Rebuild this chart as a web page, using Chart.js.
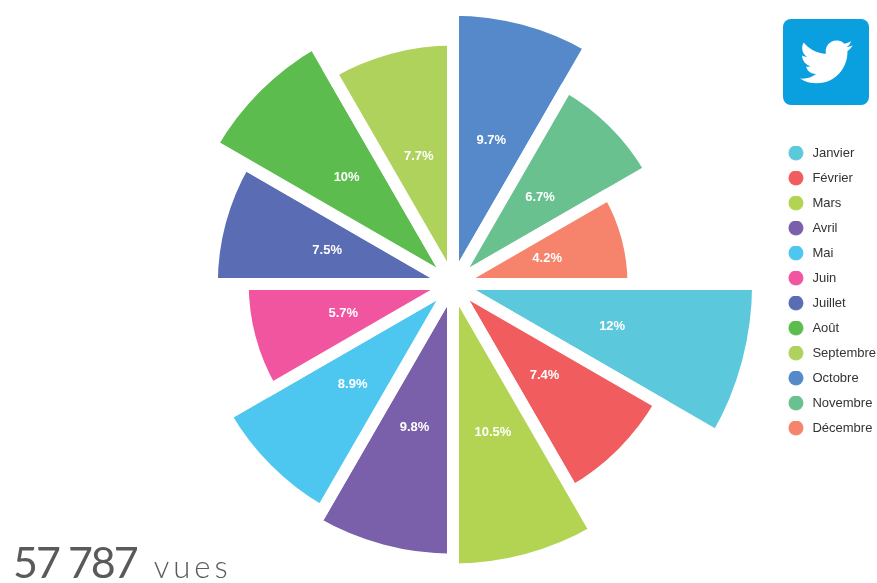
<!DOCTYPE html>
<html lang="fr">
<head>
<meta charset="utf-8">
<title>Twitter</title>
<script src="https://cdn.jsdelivr.net/npm/chart.js@4"></script>
<style>
    html, body { margin: 0; padding: 0; width: 877px; height: 583px; overflow: hidden; background: #fff; }
    #myChart { position: absolute; left: 0; top: -36px; }
    #logo { position: absolute; left: 783px; top: 19px; }
    #total { position: absolute; left: 13px; top: 537px; color: #5a5a5a; font-family: Lato, sans-serif; white-space: nowrap; line-height: 50px; }
    #total b { font-weight: 400; font-size: 43px; letter-spacing: -2px; }
    #total span { font-weight: 300; font-size: 31px; letter-spacing: 4px; margin-left: 17px; }
</style>
</head>
<body>
<canvas id="myChart" width="886" height="640"></canvas>
<svg id="logo" width="86" height="86" viewBox="0 0 86 86">
    <rect width="86" height="86" rx="8" fill="#0a9fde"></rect>
    <path transform="translate(17 16.5) scale(2.2)" fill="#fff" d="M23.953 4.57a10 10 0 01-2.825.775 4.958 4.958 0 002.163-2.723c-.951.555-2.005.959-3.127 1.184a4.92 4.92 0 00-8.384 4.482C7.69 8.095 4.067 6.13 1.64 3.162a4.822 4.822 0 00-.666 2.475c0 1.71.87 3.213 2.188 4.096a4.904 4.904 0 01-2.228-.616v.06a4.923 4.923 0 003.946 4.827 4.996 4.996 0 01-2.212.085 4.936 4.936 0 004.604 3.417 9.867 9.867 0 01-6.102 2.105c-.39 0-.779-.023-1.17-.067a13.995 13.995 0 007.557 2.209c9.053 0 13.998-7.496 13.998-13.985 0-.21 0-.42-.015-.63A9.935 9.935 0 0024 4.59z"></path>
</svg>
<div id="total"><b>57 787</b><span>vues</span></div>
<script>
const months = ['Janvier', 'Février', 'Mars', 'Avril', 'Mai', 'Juin', 'Juillet', 'Août', 'Septembre', 'Octobre', 'Novembre', 'Décembre'];
const shares = [12, 7.4, 10.5, 9.8, 8.9, 5.7, 7.5, 10, 7.7, 9.7, 6.7, 4.2];
const colors = ['#5cc8dc', '#f15c5e', '#b2d452', '#7a5faa', '#4ec7f0', '#f155a0', '#5a6cb4', '#5cbc4e', '#afd25c', '#5589ca', '#68c18f', '#f6836b'];

// the slice area follows the share, so the radius goes with the square root
class SqrtRadialScale extends Chart.RadialLinearScale {
    getDistanceFromCenterForValue(value) {
        if (value === null || value === undefined) {
            return 0;
        }
        return this.drawingArea * Math.sqrt((value - this.min) / (this.max - this.min));
    }
}
SqrtRadialScale.id = 'sqrtRadial';
SqrtRadialScale.defaults = Chart.RadialLinearScale.defaults;
Chart.register(SqrtRadialScale);

// legend dot as an image, so the box can be wider than the dot
function legendDot(color) {
    const dot = document.createElement('canvas');
    dot.width = 16;
    dot.height = 16;
    const c = dot.getContext('2d');
    c.fillStyle = color;
    c.beginPath();
    c.arc(8, 7, 7.5, 0, Math.PI * 2);
    c.fill();
    return dot;
}

function legendItems(chart) {
    return months.map(function (name, i) {
        return {
            text: name,
            pointStyle: legendDot(colors[i]),
            fontColor: '#333',
            lineWidth: 0,
            index: i
        };
    });
}

const sliceLabels = {
    id: 'sliceLabels',
    afterDatasetsDraw(chart) {
        const ctx = chart.ctx;
        ctx.save();
        ctx.font = 'bold 13px "Liberation Sans"';
        ctx.fillStyle = '#fff';
        ctx.textAlign = 'center';
        ctx.textBaseline = 'middle';
        chart.getDatasetMeta(0).data.forEach(function (arc, i) {
            const mid = (arc.startAngle + arc.endAngle) / 2;
            const dist = arc.outerRadius * 0.54;
            ctx.fillText(shares[i] + '%', arc.x + Math.cos(mid) * dist, arc.y + Math.sin(mid) * dist);
        });
        ctx.restore();
    }
};

new Chart(document.getElementById('myChart'), {
    type: 'polarArea',
    data: {
        labels: months,
        datasets: [{
            data: shares,
            backgroundColor: colors,
            borderColor: '#fff',
            borderWidth: 12,
            borderJoinStyle: 'miter',
            hoverBackgroundColor: colors
        }]
    },
    options: {
        responsive: false,
        animation: false,
        layout: { padding: { left: 133 } },
        scales: {
            r: {
                type: 'sqrtRadial',
                startAngle: 90,
                min: 0,
                max: 13.2,
                grid: { display: false },
                angleLines: { display: false },
                pointLabels: { display: false },
                ticks: { display: false }
            }
        },
        plugins: {
            tooltip: { enabled: false },
            legend: {
                position: 'right',
                title: { display: true, text: ' ', font: { size: 4 }, padding: 5 },
                labels: {
                    usePointStyle: true,
                    pointStyleWidth: 20,
                    boxHeight: 11,
                    padding: 12,
                    color: '#333',
                    font: { family: '"Liberation Sans"', size: 13 },
                    generateLabels: legendItems
                }
            }
        }
    },
    plugins: [sliceLabels]
});
</script>
</body>
</html>
